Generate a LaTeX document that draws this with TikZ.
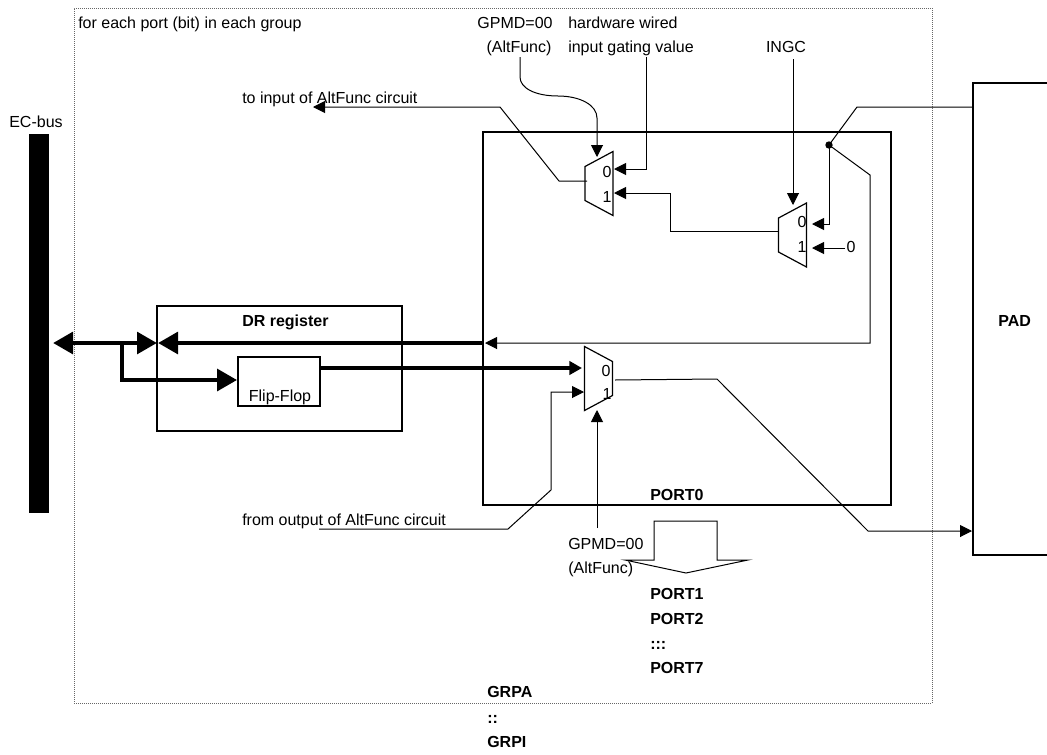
\documentclass[tikz,border=0pt]{standalone}
\usepackage{fontspec}
\setmainfont{Liberation Sans}
\usetikzlibrary{positioning,arrows.meta,calc}

\begin{document}
\begin{tikzpicture}[
  x=0.75pt,
  y=-0.75pt,
  txt/.style={inner sep=0pt, anchor=base, font=\fontsize{12}{14}\selectfont},
  lbl/.style={txt, anchor=base west},
  bold/.style={txt, anchor=base west, font=\fontsize{12}{14}\selectfont\bfseries},
  wire/.style={line width=0.75pt},
  arr/.style={wire, -{Triangle[length=9pt,width=9pt]}},
  bus/.style={line width=3.6pt, -{Triangle[length=9.5pt,width=10pt]}},
  bigbus/.style={line width=3.6pt, {Triangle[length=15pt,width=16pt]}-{Triangle[length=15pt,width=16pt]}},
  bigarr/.style={line width=3.6pt, -{Triangle[length=15pt,width=16pt]}},
  muxwest/.pic={\draw[line width=0.9pt] (-14,-17) -- (14,-32) -- (14,32) -- (-14,17) -- cycle;},
  muxeast/.pic={\draw[line width=0.9pt] (-14,-32) -- (14,-17) -- (14,17) -- (-14,32) -- cycle;}
]

\useasboundingbox (0,0) rectangle (1047,754);

% =========================================================
% BOXES
% =========================================================

\node[draw=black!60, dash pattern=on 0.75pt off 0.75pt, line width=0.6pt, minimum width=643.5pt, minimum height=521.25pt, inner sep=0pt] (group) at (503,355.5) {};

\fill (29,134) rectangle (49,513);
\coordinate (busport) at (53,343);

\node[draw, line width=1.3pt, minimum width=183.75pt, minimum height=93.75pt, inner sep=0pt] (dr) at (279.5,368.5) {};
\node[draw, line width=1.3pt, minimum width=61.5pt, minimum height=36.75pt, inner sep=0pt] (ff) at (279,381.5) {};
\node[draw, line width=2.2pt, minimum width=306pt, minimum height=279.75pt, inner sep=0pt] (port) at (687,318.5) {};
\node[draw, line width=1.3pt, minimum width=76.5pt, minimum height=354pt, inner sep=0pt] (pad) at (1024,319) {};

\pic at (599,183.5) {muxwest};
\pic at (792.5,235) {muxwest};
\pic at (598.5,378.5) {muxeast};

% =========================================================
% LABELS
% =========================================================

\node[lbl] (title) at (78,28) {for each port (bit) in each group};
\node[txt] (ecbus) at (36,127) {EC-bus};
\node[txt] (gpmdtop) at (515,28) {GPMD=00};
\node[txt] (altfunctop) at (519,52) {(AltFunc)};
\node[lbl] (hwa) at (568,28) {hardware wired};
\node[lbl] (hwb) at (568,52) {input gating value};
\node[txt] (ingc) at (786,52) {INGC};
\node[lbl] (toinput) at (242,103) {to input of AltFunc circuit};
\node[lbl] (fromoutput) at (242,525) {from output of AltFunc circuit};
\node[lbl] (gpmdlow) at (568,549) {GPMD=00};
\node[lbl] (altfunclow) at (568,573) {(AltFunc)};
\node[txt] (zero) at (851,252) {0};

\node[bold] (padname) at (998,326) {PAD};
\node[bold] (drname) at (242,326) {DR register};
\node[txt] (ffname) at (280,401) {Flip-Flop};
\node[bold] (port0) at (650,500) {PORT0};
\node[bold] (port1) at (650,599) {PORT1};
\node[bold] (port2) at (650,624) {PORT2};
\node[bold] (portdots) at (650,649) {:::};
\node[bold] (port7) at (650,673) {PORT7};
\node[bold] (grpa) at (487,697) {GRPA};
\node[bold] (grpdots) at (487,723) {::};
\node[bold] (grpi) at (487,747) {GRPI};

\node[txt] (muxazero) at (607,177) {0};
\node[txt] (muxaone) at (607,202) {1};
\node[txt] (muxbzero) at (802,227) {0};
\node[txt] (muxbone) at (802,252) {1};
\node[txt] (muxczero) at (606,376) {0};
\node[txt] (muxcone) at (607,399) {1};

% =========================================================
% DOWNWARD ARROW
% =========================================================

\draw[wire] (654,560) -- (654,521) -- (717,521) -- (717,560) -- (748,560) -- (686,573) -- (625,560) -- cycle;

% =========================================================
% THIN WIRES
% =========================================================

\coordinate (toinputend) at (313,107);
\coordinate (muxaout) at (587,181);
\coordinate (muxasel) at (597,157);
\coordinate (muxain0) at (614,169);
\coordinate (muxain1) at (614,193);
\coordinate (muxbout) at (778,231);
\coordinate (muxbsel) at (793,205);
\coordinate (muxbin0) at (812,224);
\coordinate (muxbin1) at (812,248);
\coordinate (muxcin1) at (584,392);
\coordinate (muxcsel) at (597,410);
\coordinate (muxcout) at (615,380);
\coordinate (padin) at (973,107);
\coordinate (padout) at (972,531);
\coordinate (tap) at (829,145);
\coordinate (gpmdfoot) at (520,57);
\coordinate (hwfoot) at (646,57);
\coordinate (ingcfoot) at (793,59);
\coordinate (outputstart) at (319,529);
\coordinate (gpmdlowtop) at (597,528);
\coordinate (busin) at (485,343);

\draw[arr] (muxaout) -- (559,181) -- (500,107) -- (toinputend);
\draw[arr] (gpmdfoot) -- (520,77) .. controls (520,88) and (535,96) .. (558,96) .. controls (580,96) and (597,105) .. (597,118) -- (muxasel);
\draw[arr] (hwfoot) |- (muxain0);
\draw[arr] (muxbout) -- (670,231) |- (muxain1);
\draw[arr] (ingcfoot) -- (muxbsel);
\draw[wire] (padin) -- (857,107) -- (tap);
\fill (tap) circle (3.7);
\draw[arr] (tap) |- (muxbin0);
\draw[arr] (845,248) -- (muxbin1);
\draw[arr] (tap) -- (870,175) -- (870,343) -- (busin);

\draw[arr] (outputstart) -- (508,529) -- (551,490) -- (551,392) -- (muxcin1);
\draw[arr] (gpmdlowtop) -- (muxcsel);
\draw[arr] (muxcout) -- (717,379) -- (868,531) -- (padout);

% =========================================================
% THICK BUSES
% =========================================================

\draw[bigbus] (busport) -- (157,343);
\draw[bigarr] (122,343) |- (ff.west |- 0,380);
\draw[bigarr] (483,343) -- (158,343);
\draw[bus] (ff.east |- 0,368) -- (582,368);

\end{tikzpicture}
\end{document}
